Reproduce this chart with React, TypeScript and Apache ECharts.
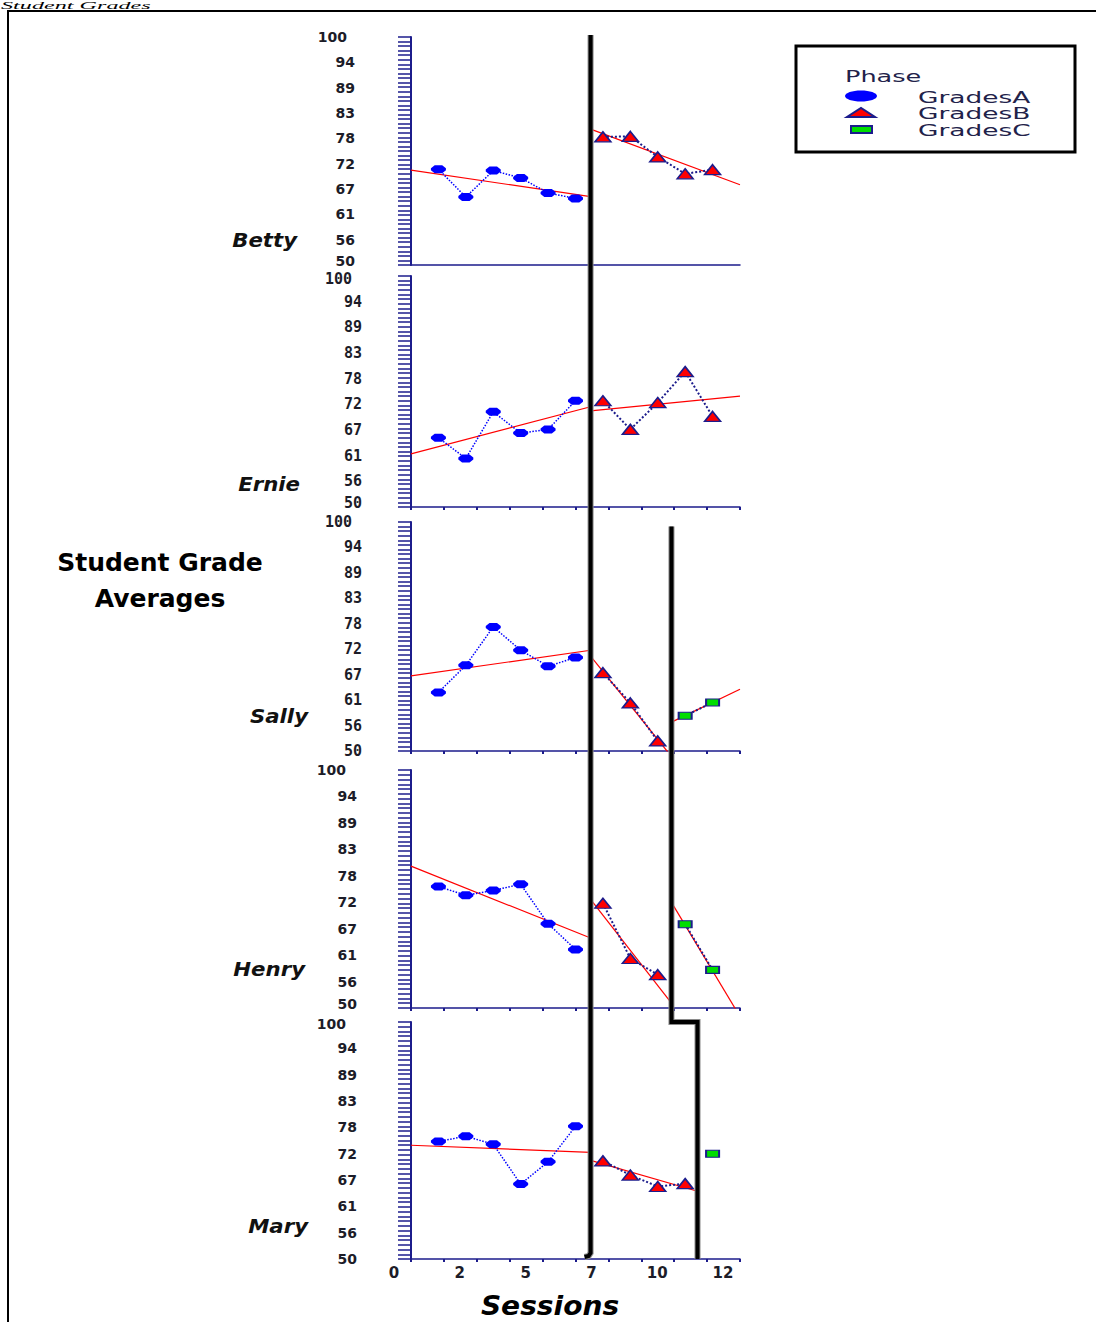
import React, { useEffect, useRef } from 'react';
import * as echarts from 'echarts';

// ---------------- data ----------------
const students = ['Betty', 'Ernie', 'Sally', 'Henry', 'Mary'];
const yTickLabels = ['50', '56', '61', '67', '72', '78', '83', '89', '94', '100'];
const xTickLabels = ['0', '2', '5', '7', '10', '12'];
const legendTitle = 'Phase';
const legendLabels = ['GradesA', 'GradesB', 'GradesC'];
const chartTitle = ['Student Grade', 'Averages'];
const xAxisTitle = 'Sessions';
const captionText = 'Student Grades';

const sessionsA = [1, 2, 3, 4, 5, 6];
const sessionsBFive = [7, 8, 9, 10, 11];
const sessionsBThree = [7, 8, 9];
const sessionsBFour = [7, 8, 9, 10];
const sessionsCTwo = [10, 11];
const sessionsCOne = [11];

const bettyA = [71.0, 64.9, 70.7, 69.1, 65.8, 64.6];
const bettyB = [78.1, 78.2, 73.7, 70.0, 70.9];
const ernieA = [65.0, 60.5, 70.6, 66.0, 66.8, 73.0];
const ernieB = [73.0, 66.8, 72.6, 79.3, 69.6];
const sallyA = [62.8, 68.7, 77.1, 72.0, 68.5, 70.4];
const sallyB = [67.1, 60.5, 52.2];
const sallyC = [57.7, 60.6];
const henryA = [75.5, 73.7, 74.7, 76.0, 67.7, 62.3];
const henryB = [72.0, 60.4, 57.0];
const henryC = [67.6, 58.0];
const maryA = [74.8, 75.9, 74.2, 65.8, 70.5, 78.0];
const maryB = [70.7, 67.7, 65.3, 65.9];
const maryC = [72.2];

// phase-change positions (in sessions)
const phaseChange1 = 6.55;
const sallyPhaseChange2 = 9.5;
const henryPhaseChange2 = 9.5;
const maryPhaseChange2 = 10.45;

// trend lines: [value at phase start, value at phase end]
const bettyTrendA = [70.8, 65.0];
const bettyTrendB = [79.8, 67.6];
const ernieTrendA = [61.5, 71.7];
const ernieTrendB = [70.8, 74.0];
const sallyTrendA = [66.4, 72.0];
const sallyTrendB = [70.7, 48.8];
const sallyTrendC = [56.3, 63.5];
const henryTrendA = [79.8, 64.7];
const henryTrendB = [72.8, 51.0];
const henryTrendC = [72.2, 48.2];
const maryTrendA = [74.0, 72.5];
const maryTrendB = [70.8, 64.3];

type Panel = {
  name: string;
  a: number[];
  bSessions: number[];
  b: number[];
  cSessions: number[];
  c: number[];
  phase2: number | null;
  trends: (number[] | null)[];
};

const panels: Panel[] = [
  { name: students[0], a: bettyA, bSessions: sessionsBFive, b: bettyB, cSessions: [], c: [], phase2: null, trends: [bettyTrendA, bettyTrendB] },
  { name: students[1], a: ernieA, bSessions: sessionsBFive, b: ernieB, cSessions: [], c: [], phase2: null, trends: [ernieTrendA, ernieTrendB] },
  { name: students[2], a: sallyA, bSessions: sessionsBThree, b: sallyB, cSessions: sessionsCTwo, c: sallyC, phase2: sallyPhaseChange2, trends: [sallyTrendA, sallyTrendB, sallyTrendC] },
  { name: students[3], a: henryA, bSessions: sessionsBThree, b: henryB, cSessions: sessionsCTwo, c: henryC, phase2: henryPhaseChange2, trends: [henryTrendA, henryTrendB, henryTrendC] },
  { name: students[4], a: maryA, bSessions: sessionsBFour, b: maryB, cSessions: sessionsCOne, c: maryC, phase2: maryPhaseChange2, trends: [maryTrendA, maryTrendB, null] },
];

// ---------------- layout & style ----------------
const gridLeft = 411;
const gridWidth = 329;
const gridTops = [37, 276, 522, 770, 1022];
const gridHeights = [228, 231, 229, 238, 237];
const labelFonts = ['DejaVu Sans', 'DejaVu Sans Mono', 'DejaVu Sans Mono', 'DejaVu Sans', 'DejaVu Sans'];
const labelSizes = [14, 15, 15, 14, 14];
const labelMargins = [56, 49, 49, 54, 54];
const topLabelPads = [8, 10, 10, 11, 11];
const topLabelShift = [0, 3, 0, 0, 2];
const bottomLabelShift = [4, 4, 0, 4, 0];
const nameRight = [297, 300, 308, 305, 308];
const nameY = [240, 484, 716, 969, 1226];

const NAVY = '#1c1c8c';
const RED = '#ff0000';
const BLUE = '#0000ff';
const GREEN = '#00dd00';
const TEXT = '#1c1c28';
const OCTAGON = 'path://M4,0 L12,0 L16,3 L16,5 L12,8 L4,8 L0,5 L0,3 Z';

function buildOption() {
  const xAxis: any[] = panels.map((_, i) => ({
    type: 'value',
    gridIndex: i,
    position: 'bottom',
    min: 0,
    max: 12,
    interval: 1.2,
    axisLine: { show: true, onZero: false, lineStyle: { color: NAVY, width: 1.5 } },
    axisTick: { show: i > 0, length: 3, lineStyle: { color: NAVY, width: 2 } },
    axisLabel: { show: false },
    splitLine: { show: false },
  }));
  xAxis.push({
    type: 'category',
    gridIndex: 4,
    position: 'bottom',
    data: xTickLabels,
    boundaryGap: false,
    axisLine: { show: false },
    axisTick: { show: false },
    splitLine: { show: false },
    axisLabel: {
      interval: 0,
      margin: 6,
      fontFamily: 'DejaVu Sans',
      fontWeight: 'bold',
      fontSize: 15,
      color: TEXT,
      padding: [0, 34, 0, 0],
    },
  });

  const yAxis: any[] = panels.map((_, i) => ({
    type: 'value',
    gridIndex: i,
    position: 'left',
    min: 50,
    max: 100,
    interval: 1,
    axisLine: { show: true, onZero: false, lineStyle: { color: NAVY, width: 2 } },
    axisTick: { show: true, length: 13, lineStyle: { color: NAVY, width: 1.5 } },
    axisLabel: { show: false },
    splitLine: { show: false },
  }));
  panels.forEach((_, i) => {
    const base = { fontFamily: labelFonts[i], fontWeight: 'bold', fontSize: labelSizes[i], color: TEXT };
    const last = yTickLabels.length - 1;
    yAxis.push({
      type: 'category',
      gridIndex: i,
      position: 'left',
      data: yTickLabels,
      boundaryGap: false,
      axisLine: { show: false },
      axisTick: { show: false },
      splitLine: { show: false },
      axisLabel: {
        interval: 0,
        margin: labelMargins[i],
        ...base,
        formatter: (v: string, idx: number) => (idx === last ? `{top|${v}}` : idx === 0 ? `{bot|${v}}` : v),
        rich: {
          top: { ...base, padding: [topLabelShift[i] * 2, topLabelPads[i], 0, 0] },
          bot: { ...base, padding: [0, 0, bottomLabelShift[i] * 2, 0] },
        },
      },
    });
  });

  const series: any[] = [];
  const firstSeries: number[] = [];
  panels.forEach((p, i) => {
    const ax = { xAxisIndex: i, yAxisIndex: i };
    const bounds = p.phase2 != null ? [0, phaseChange1, p.phase2, 12] : [0, phaseChange1, 12];
    firstSeries.push(series.length);
    series.push({
      name: legendLabels[0],
      type: 'line',
      ...ax,
      data: sessionsA.map((s, k) => [s, p.a[k]]),
      symbol: OCTAGON,
      symbolSize: [15, 8],
      itemStyle: { color: BLUE },
      lineStyle: { color: BLUE, width: 1.5, type: 'dotted' },
      z: 4,
    });
    p.trends.forEach((t, k) => {
      if (!t) return;
      series.push({
        type: 'line',
        ...ax,
        data: [[bounds[k], t[0]], [bounds[k + 1], t[1]]],
        symbol: 'none',
        lineStyle: { color: RED, width: 1.2 },
        silent: true,
        z: 3,
      });
    });
    series.push({
      name: legendLabels[1],
      type: 'line',
      ...ax,
      data: p.bSessions.map((s, k) => [s, p.b[k]]),
      symbol: 'triangle',
      symbolSize: [16, 10],
      itemStyle: { color: RED, borderColor: NAVY, borderWidth: 1.5 },
      lineStyle: { color: NAVY, width: 2, type: 'dotted' },
      z: 4,
    });
    if (p.c.length) {
      series.push({
        name: legendLabels[2],
        type: 'line',
        ...ax,
        data: p.cSessions.map((s, k) => [s, p.c[k]]),
        symbol: 'rect',
        symbolSize: [13, 7],
        itemStyle: { color: GREEN, borderColor: NAVY, borderWidth: 1.5 },
        lineStyle: { color: NAVY, width: 2, type: 'dotted' },
        z: 4,
      });
    }
  });

  const option = {
    animation: false,
    backgroundColor: '#ffffff',
    grid: panels.map((_, i) => ({ left: gridLeft, width: gridWidth, top: gridTops[i], height: gridHeights[i] })),
    xAxis,
    yAxis,
    series,
  };
  return { option, firstSeries };
}

function staticGraphics(): any[] {
  const g: any[] = [];
  g.push({
    type: 'rect',
    silent: true,
    z: 1,
    shape: { x: 8, y: 11, width: 1200, height: 1400 },
    style: { fill: null, stroke: '#000', lineWidth: 2 },
  });
  g.push({
    type: 'text',
    x: 1,
    y: 0,
    scaleX: 2.2,
    style: { text: captionText, fontFamily: 'Liberation Serif', fontStyle: 'italic', fontSize: 11, fill: '#000', align: 'left', verticalAlign: 'top' },
  });
  chartTitle.forEach((t, k) => {
    g.push({
      type: 'text',
      x: 160,
      y: [562, 598][k],
      style: { text: t, fontFamily: 'DejaVu Sans', fontWeight: 'bold', fontSize: 25, fill: '#000', align: 'center', verticalAlign: 'middle' },
    });
  });
  panels.forEach((p, i) => {
    g.push({
      type: 'text',
      x: nameRight[i],
      y: nameY[i],
      scaleX: 1.12,
      style: { text: p.name, fontFamily: 'DejaVu Sans', fontWeight: 'bold', fontStyle: 'italic', fontSize: 19, fill: '#111', align: 'right', verticalAlign: 'middle' },
    });
  });
  g.push({
    type: 'text',
    x: 550,
    y: 1306,
    scaleX: 1.08,
    style: { text: xAxisTitle, fontFamily: 'DejaVu Sans', fontWeight: 'bold', fontStyle: 'italic', fontSize: 26, fill: '#000', align: 'center', verticalAlign: 'middle' },
  });
  // legend
  g.push({ type: 'rect', z: 5, shape: { x: 796, y: 46, width: 279, height: 106 }, style: { fill: '#fff', stroke: '#000', lineWidth: 3 } });
  g.push({
    type: 'text', z: 6, x: 845, y: 76, scaleX: 1.55,
    style: { text: legendTitle, fontFamily: 'DejaVu Sans', fontSize: 16.5, fill: '#22224a', align: 'left', verticalAlign: 'middle' },
  });
  g.push({ type: 'ellipse', z: 6, shape: { cx: 861, cy: 96, rx: 16, ry: 5.5 }, style: { fill: BLUE } });
  g.push({ type: 'polygon', z: 6, shape: { points: [[847, 117], [875, 117], [861, 108]] }, style: { fill: RED, stroke: NAVY, lineWidth: 2 } });
  g.push({ type: 'rect', z: 6, shape: { x: 851, y: 126, width: 21, height: 7 }, style: { fill: GREEN, stroke: NAVY, lineWidth: 2 } });
  legendLabels.forEach((t, k) => {
    g.push({
      type: 'text', z: 6, x: 918, y: [97, 113, 130][k], scaleX: 1.6,
      style: { text: t, fontFamily: 'DejaVu Sans', fontSize: 16.5, fill: '#22224a', align: 'left', verticalAlign: 'middle' },
    });
  });
  return g;
}

export default function App() {
  const ref = useRef<HTMLDivElement>(null);
  useEffect(() => {
    if (!ref.current) return;
    const chart = echarts.init(ref.current, null, { renderer: 'svg' });
    const { option, firstSeries } = buildOption();
    chart.setOption(option as any);

    const px = (panel: number, x: number, y: number) =>
      chart.convertToPixel({ seriesIndex: firstSeries[panel] } as any, [x, y]) as unknown as number[];

    const g = staticGraphics();
    // phase change line 1 : across all panels
    const p1Top = px(0, phaseChange1, 100);
    const p1Bot = px(4, phaseChange1, 50);
    const line1 = [
      [p1Top[0], p1Top[1] - 2],
      [p1Bot[0], p1Bot[1] - 6],
      [p1Bot[0] - 2, p1Bot[1] - 3],
      [p1Bot[0] - 6, p1Bot[1] - 2],
    ];
    // phase change line 2 : Sally -> Henry, then steps over to Mary's change
    const p2Top = px(2, sallyPhaseChange2, 99);
    const stepY = px(4, maryPhaseChange2, 100)[1];
    const p2MaryX = px(4, maryPhaseChange2, 100)[0];
    const p2Bot = px(4, maryPhaseChange2, 50);
    const line2 = [
      [p2Top[0], p2Top[1]],
      [p2Top[0], stepY],
      [p2MaryX, stepY],
      [p2MaryX, p2Bot[1]],
    ];
    [line1, line2].forEach((pts) => {
      g.push({ type: 'polyline', z: 10, silent: true, shape: { points: pts }, style: { stroke: '#8a8a8a', lineWidth: 6, fill: null, lineJoin: 'miter' } });
      g.push({ type: 'polyline', z: 11, silent: true, shape: { points: pts }, style: { stroke: '#000', lineWidth: 4, fill: null, lineJoin: 'miter' } });
    });
    chart.setOption({ graphic: g } as any);
    return () => chart.dispose();
  }, []);
  return <div ref={ref} style={{ position: 'absolute', left: 0, top: 0, width: 1096, height: 1322 }} />;
}
